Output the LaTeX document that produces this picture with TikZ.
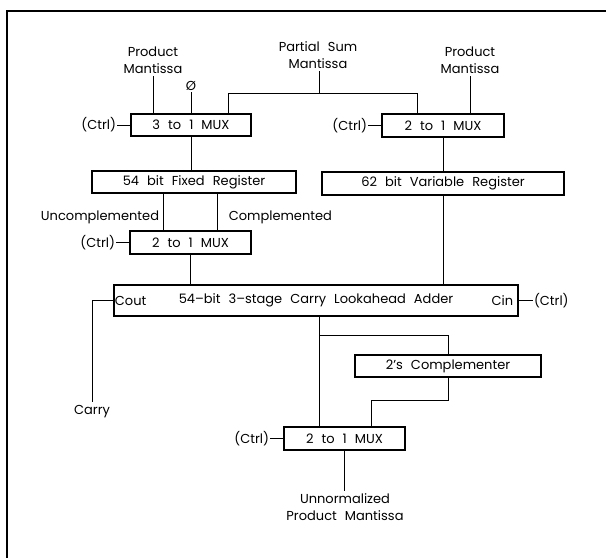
\documentclass[tikz,border=0pt]{standalone}
\usepackage{fontspec}
\setmainfont{Poppins}
\usetikzlibrary{positioning}

\newcommand\plotfont{\fontsize{13}{17.5}\selectfont\spaceskip=0.62em\relax}

\tikzset{
  blk/.style={draw,line width=1.1pt,minimum height=22pt,inner sep=0pt},
  ctrl/.style={inner sep=1pt},
  lbl/.style={align=center,inner sep=2pt}
}

\begin{document}
\begin{tikzpicture}[x=1pt,y=-1pt,line width=0.9pt,every node/.style={font=\plotfont}]
\useasboundingbox (0,0) rectangle (606,558);
\draw[line width=1.6pt] (606,11) -- (7,11) -- (7,558);

\node[blk,minimum width=120pt] (mux3) at (191,125) {3 to 1 MUX};
\node[blk,minimum width=122pt,minimum height=23pt] (muxr) at (443,125.5) {2 to 1 MUX};
\node[blk,minimum width=204pt] (fixreg) at (194,182) {54 bit Fixed Register};
\node[blk,minimum width=242pt,minimum height=23pt] (varreg) at (443,183.5) {62 bit Variable Register};
\node[blk,minimum width=121pt,minimum height=23pt] (muxm) at (190.5,242.5) {2 to 1 MUX};
\node[blk,minimum width=404pt,minimum height=31pt] (adder) at (316,300.5) {54--bit 3--stage Carry Lookahead Adder};
\node[blk,minimum width=186pt] (compl) at (448,366) {2's Complementer};
\node[blk,minimum width=121pt,minimum height=23pt] (muxb) at (344.5,438.5) {2 to 1 MUX};

\node[anchor=west,inner sep=1pt] (cout) at (adder.west) {Cout};
\node[anchor=east,inner sep=5pt] (cin) at (adder.east) {Cin};

\node[ctrl,left=13pt of mux3] (ctrl1) {(Ctrl)};
\node[ctrl,left=13pt of muxr] (ctrl2) {(Ctrl)};
\node[ctrl,left=13pt of muxm] (ctrl3) {(Ctrl)};
\node[ctrl,right=14pt of adder] (ctrl4) {(Ctrl)};
\node[ctrl,left=13pt of muxb] (ctrl5) {(Ctrl)};

\node[lbl] (pmleft) at (153,60) {Product\\Mantissa};
\node[lbl] (psum) at (318,55) {Partial Sum\\Mantissa};
\node[lbl] (pmright) at (470,60) {Product\\Mantissa};
\node[inner sep=1pt] (zero) at (191,86) {Ø};
\node (uncomp) at (100,217) {Uncomplemented};
\node[anchor=west] (comp) at (225,217) {Complemented};
\node (carry) at (92,412) {Carry};
\node[lbl] (result) at (345,507) {Unnormalized\\Product Mantissa};

\coordinate (sl) at (228,93);
\coordinate (sr) at (417,93);
\coordinate (ao) at (319,335);
\coordinate (cj) at (371,400);

\draw (ctrl1) -- (mux3);
\draw (ctrl2) -- (muxr);
\draw (ctrl3) -- (muxm);
\draw (adder) -- (ctrl4);
\draw (ctrl5) -- (muxb);

\draw (pmleft) -- (pmleft |- mux3.north);
\draw (zero) -- (zero |- mux3.north);
\draw (psum.south -| ao) -- (ao |- sl);
\draw (sl |- mux3.north) -- (sl) -- (sr) -- (sr |- muxr.north);
\draw (pmright) -- (pmright |- muxr.north);

\draw (mux3.south) -- (mux3.south |- fixreg.north);
\draw (muxr.south) -- (muxr.south |- varreg.north);
\draw ([xshift=-27pt]muxm.north) -- ([xshift=-27pt]muxm.north |- fixreg.south);
\draw ([xshift=27pt]muxm.north) -- ([xshift=27pt]muxm.north |- fixreg.south);
\draw (muxm.south) -- (muxm.south |- adder.north);
\draw (varreg.south) -- (varreg.south |- adder.north);

\draw (cout.west) -| (carry.north);
\draw (ao |- adder.south) -- (ao |- muxb.north);
\draw (ao) -| (compl.north);
\draw (compl.south) |- (cj) -- (cj |- muxb.north);
\draw (muxb.south) -- (muxb.south |- result.north);
\end{tikzpicture}
\end{document}
